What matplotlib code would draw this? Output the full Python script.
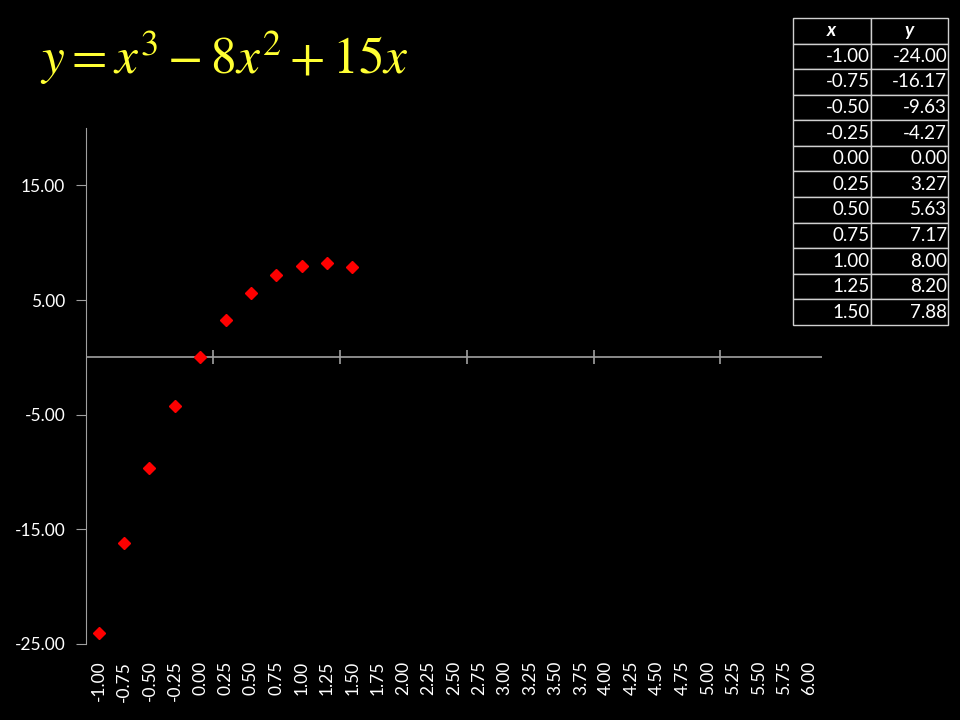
import matplotlib
matplotlib.use('Agg')
from matplotlib import pyplot as plt

# categories on the x axis
categories = ['-1.00', '-0.75', '-0.50', '-0.25', '0.00', '0.25', '0.50', '0.75',
              '1.00', '1.25', '1.50', '1.75', '2.00', '2.25', '2.50', '2.75',
              '3.00', '3.25', '3.50', '3.75', '4.00', '4.25', '4.50', '4.75',
              '5.00', '5.25', '5.50', '5.75', '6.00']
# table data
x_vals = ['-1.00', '-0.75', '-0.50', '-0.25', '0.00', '0.25', '0.50', '0.75',
          '1.00', '1.25', '1.50']
y_vals = [-24.00, -16.17, -9.63, -4.27, 0.00, 3.27, 5.63, 7.17, 8.00, 8.20, 7.88]
y_ticks = [-25, -15, -5, 5, 15]

plt.rcParams['font.family'] = ['Lato', 'DejaVu Sans']
plt.rcParams['mathtext.fontset'] = 'stix'

fig = plt.figure(figsize=(9.6, 7.2), dpi=100, facecolor='black')
ax = fig.add_axes([86/960, 1-644/720, (822-86)/960, (644-128)/720])
ax.set_facecolor('black')

pos = [categories.index(v) for v in x_vals]
ax.plot(pos, y_vals, linestyle='none', marker='D', markersize=6,
        color='#ff0000', markeredgecolor='#ff0000')

ax.set_xlim(-0.5, len(categories) - 0.5)
ax.set_ylim(-25, 20)

# y axis
for s in ['top', 'right', 'bottom']:
    ax.spines[s].set_visible(False)
ax.spines['left'].set_color('#a0a0a0')
ax.set_yticks(y_ticks)
ax.set_yticklabels(['%.2f' % v for v in y_ticks])
ax.tick_params(axis='y', colors='#a0a0a0', labelcolor='white', length=7,
               labelsize=12.5, pad=8)

# x labels at bottom
ax.set_xticks(range(len(categories)))
ax.set_xticklabels(categories, rotation=90)
ax.tick_params(axis='x', length=0, labelcolor='white', labelsize=12.5, pad=12)

# horizontal axis at y = 0 with cross ticks
ax.axhline(0, color='#a0a0a0', linewidth=1.2, zorder=1)
bounds = [4.5, 9.5, 14.5, 19.5, 24.5]
ax.vlines(bounds, -0.6, 0.6, color='#a0a0a0', linewidth=1.2, zorder=1)

# title formula
fig.text(40/960, 1-58/720, r'$y=x^3-8x^2+15x$', color='#ffff33',
         fontsize=37, va='center', ha='left')

# table
tax = fig.add_axes([793/960, 1-325/720, 155/960, 307/720])
tax.axis('off')
cells = [[x, '%.2f' % y] for x, y in zip(x_vals, y_vals)]
tbl = tax.table(cellText=cells, colLabels=['x', 'y'], bbox=[0, 0, 1, 1],
                cellLoc='right', colLoc='center')
tbl.auto_set_font_size(False)
tbl.set_fontsize(13.5)
for (r, c), cell in tbl.get_celld().items():
    cell.set_facecolor('black')
    cell.set_edgecolor('#d0d0d0')
    cell.set_linewidth(1)
    cell.get_text().set_color('white')
    cell.PAD = 0.01
    if r == 0:
        cell.get_text().set_fontweight('bold')
        cell.get_text().set_fontstyle('italic')

fig.savefig('out.png', dpi=100, facecolor='black')
